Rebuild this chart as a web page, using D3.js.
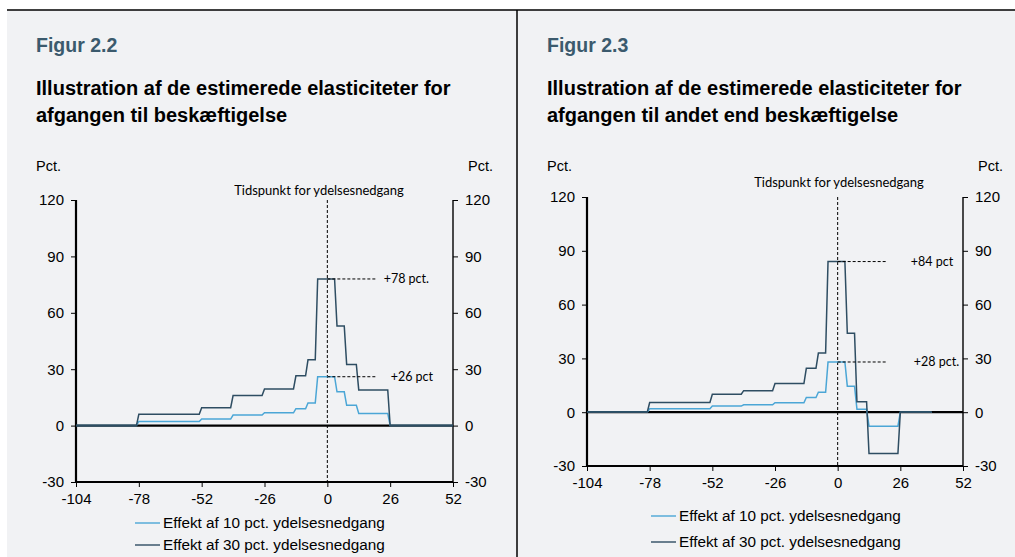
<!DOCTYPE html>
<html>
<head>
<meta charset="utf-8">
<script src="https://cdn.jsdelivr.net/npm/d3@7"></script>
<style>
  body { margin: 0; background: #fff; }
  svg { display: block; }
  text { font-family: "Liberation Sans", Arial, sans-serif; fill: #000; }
  .note { font-family: Lato, "Open Sans", sans-serif; font-size: 12.5px; }
</style>
</head>
<body>
<svg id="chart" width="1015" height="557"></svg>
<script>
// week at which each level is reached (one week ramp before it)
var stepWeeks = [-104, -78, -52, -39, -26, -13, -8, -4, 4, 8, 13, 26];
// figur 2.2 - afgang til beskaeftigelse
var emp10 = [0, 2.2, 3.5, 5.6, 6.8, 9, 12, 26, 18, 10.8, 6.5, 0];
var emp30 = [0, 6, 9.5, 16, 19.5, 26.5, 35, 78, 53, 32.5, 19, 0];
var empLastWeek = 52;
// figur 2.3 - afgang til andet end beskaeftigelse
var oth10 = [0, 1.9, 3.4, 4.1, 5.3, 8.2, 11.1, 28, 14.5, 1.7, -7.8, 0];
var oth30 = [0, 5.4, 10, 12, 16, 24.5, 33, 84, 44, 5.8, -23, 0];
var othLastWeek = 39;

var xTicks = [-104, -78, -52, -26, 0, 26, 52];
var yTicks = [-30, 0, 30, 60, 90, 120];
var seriesNames = ["Effekt af 10 pct. ydelsesnedgang", "Effekt af 30 pct. ydelsesnedgang"];
var seriesColors = ["#4ba6d6", "#2e4d62"];

var svg = d3.select("#chart");

// panel background + frame lines
svg.append("rect").attr("x", 7).attr("y", 10).attr("width", 1008).attr("height", 547).attr("fill", "#f1f2f4");
svg.append("line").attr("x1", 7).attr("x2", 1015).attr("y1", 10).attr("y2", 10).attr("stroke", "#000").attr("stroke-width", 1.5);
svg.append("line").attr("x1", 517).attr("x2", 517).attr("y1", 10).attr("y2", 557).attr("stroke", "#000").attr("stroke-width", 1.5);

function stepPoints(levels, lastWeek) {
    var pts = [];
    levels.forEach(function (v, i) {
        pts.push([stepWeeks[i], v]);
        var end = i + 1 < levels.length ? stepWeeks[i + 1] - 1 : lastWeek;
        pts.push([end, v]);
    });
    return pts;
}

function drawPanel(cfg) {
    var g = svg.append("g");

    g.append("text").attr("x", cfg.left).attr("y", 52)
        .style("font-size", "19.5px").style("font-weight", "bold").style("fill", "#3b5a6d")
        .text(cfg.fig);
    cfg.title.forEach(function (t, i) {
        g.append("text").attr("x", cfg.left).attr("y", 95 + i * 27)
            .style("font-size", "20px").style("font-weight", "bold")
            .text(t);
    });
    g.append("text").attr("x", cfg.left).attr("y", 171).style("font-size", "14.5px").text("Pct.");
    g.append("text").attr("x", cfg.pctRight).attr("y", 171).attr("text-anchor", "end").style("font-size", "14.5px").text("Pct.");

    var x = d3.scaleLinear().domain([-104, 52]).range([cfg.x0, cfg.x1]);
    var y = d3.scaleLinear().domain([-30, 120]).range([cfg.yBot, cfg.yTop]);
    var fmt = function (d) { return String(d); };

    var yLeft = g.append("g").attr("transform", "translate(" + cfg.x0 + ",0)")
        .call(d3.axisLeft(y).tickValues(yTicks).tickFormat(fmt).tickSize(5).tickPadding(7));
    var yRight = g.append("g").attr("transform", "translate(" + cfg.x1 + ",0)")
        .call(d3.axisRight(y).tickValues(yTicks).tickFormat(fmt).tickSize(5).tickPadding(7));
    var xAxis = g.append("g").attr("transform", "translate(0," + cfg.yBot + ")")
        .call(d3.axisBottom(x).tickValues(xTicks).tickFormat(fmt).tickSize(5).tickPadding(cfg.xPad));

    [yLeft, yRight, xAxis].forEach(function (a) {
        a.select(".domain").attr("stroke", "#000");
        a.selectAll(".tick line").attr("stroke", "#000");
        a.selectAll(".tick text").style("font-size", "15px").style("font-family", "Liberation Sans, Arial, sans-serif");
    });
    yLeft.select(".domain").attr("stroke-width", 2.2).attr("d", "M0," + cfg.yTop + "V" + cfg.yBot);
    yRight.select(".domain").attr("stroke-width", 1.4).attr("d", "M0," + cfg.yTop + "V" + cfg.yBot);
    xAxis.select(".domain").attr("stroke-width", 2.2).attr("d", "M" + cfg.x0 + ",0H" + cfg.x1);

    // zero line
    g.append("line").attr("x1", cfg.x0).attr("x2", cfg.x1).attr("y1", y(0)).attr("y2", y(0))
        .attr("stroke", "#000").attr("stroke-width", 2.2);

    // time of benefit cut
    g.append("line").attr("x1", x(0)).attr("x2", x(0)).attr("y1", cfg.yTop).attr("y2", cfg.yBot)
        .attr("stroke", "#000").attr("stroke-width", 1).attr("stroke-dasharray", "3,2");
    g.append("text").attr("class", "note").attr("x", cfg.noteX).attr("y", cfg.noteY)
        .attr("text-anchor", "middle").style("font-size", "13px").text("Tidspunkt for ydelsesnedgang");

    var line = d3.line().x(function (d) { return x(d[0]); }).y(function (d) { return y(d[1]); });
    cfg.series.forEach(function (s, i) {
        g.append("path").datum(stepPoints(s, cfg.lastWeek))
            .attr("fill", "none").attr("stroke", seriesColors[i]).attr("stroke-width", 1.5)
            .attr("d", line);
    });

    // peak labels
    cfg.peaks.forEach(function (p) {
        g.append("line").attr("x1", x(0)).attr("x2", x(p.to)).attr("y1", y(p.v)).attr("y2", y(p.v))
            .attr("stroke", "#000").attr("stroke-width", 1).attr("stroke-dasharray", "3,2");
        g.append("text").attr("class", "note").attr("x", x(p.to) + p.gap).attr("y", y(p.v)).attr("dy", "0.35em")
            .text(p.label);
    });

    // legend
    seriesNames.forEach(function (n, i) {
        var ly = cfg.legY[i];
        g.append("line").attr("x1", cfg.legX).attr("x2", cfg.legX + 25).attr("y1", ly).attr("y2", ly)
            .attr("stroke", seriesColors[i]).attr("stroke-width", 1.4);
        g.append("text").attr("x", cfg.legX + 28).attr("y", ly).attr("dy", "0.35em")
            .style("font-size", "15.3px").text(n);
    });
}

drawPanel({
    fig: "Figur 2.2",
    title: ["Illustration af de estimerede elasticiteter for", "afgangen til beskæftigelse"],
    left: 36, pctRight: 493,
    x0: 76, x1: 453, yTop: 200, yBot: 482, xPad: 6,
    noteX: 319, noteY: 195,
    series: [emp10, emp30], lastWeek: empLastWeek,
    peaks: [{ v: 78, label: "+78 pct.", to: 20, gap: 8 }, { v: 26, label: "+26 pct", to: 20, gap: 15 }],
    legX: 135, legY: [523, 545]
});

drawPanel({
    fig: "Figur 2.3",
    title: ["Illustration af de estimerede elasticiteter for", "afgangen til andet end beskæftigelse"],
    left: 547, pctRight: 1003,
    x0: 587, x1: 963, yTop: 197, yBot: 466, xPad: 6,
    noteX: 839, noteY: 187,
    series: [oth10, oth30], lastWeek: othLastWeek,
    peaks: [{ v: 84, label: "+84 pct", to: 20, gap: 25 }, { v: 28, label: "+28 pct.", to: 20, gap: 28 }],
    legX: 651, legY: [516, 542]
});
</script>
</body>
</html>
